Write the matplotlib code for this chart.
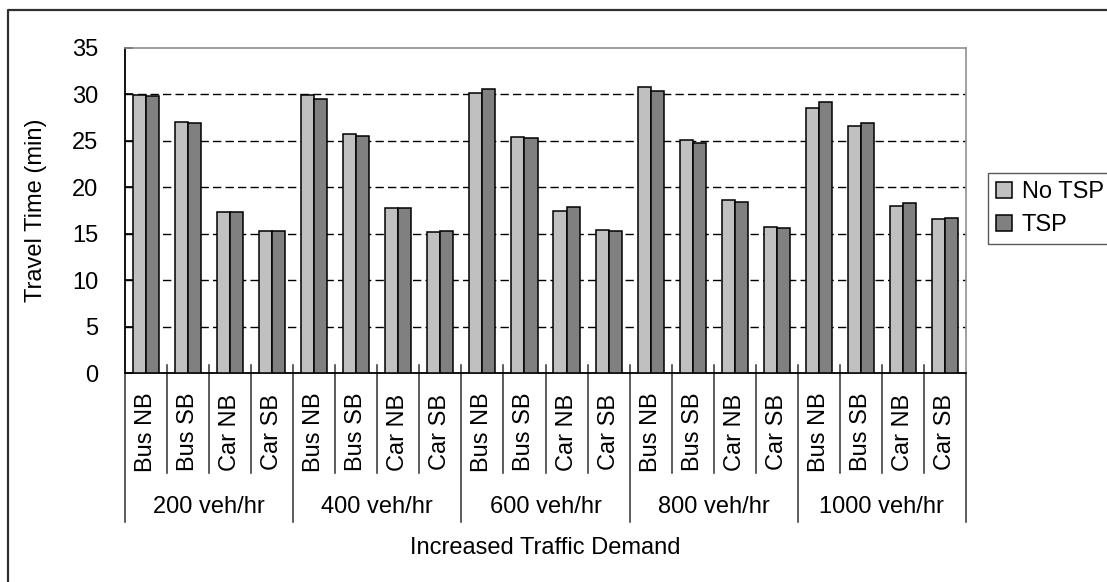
import matplotlib
matplotlib.use("Agg")
import matplotlib.pyplot as plt
import matplotlib.transforms as mtransforms
from matplotlib.lines import Line2D
import numpy as np

plt.rcParams['font.family'] = ['Liberation Sans', 'DejaVu Sans']

groups = ["200 veh/hr", "400 veh/hr", "600 veh/hr", "800 veh/hr", "1000 veh/hr"]
categories = ["Bus NB", "Bus SB", "Car NB", "Car SB"]
series_names = ["No TSP", "TSP"]
no_tsp = [29.9, 27.0, 17.3, 15.3,
          29.9, 25.7, 17.7, 15.15,
          30.15, 25.4, 17.4, 15.4,
          30.75, 25.05, 18.55, 15.7,
          28.45, 26.6, 18.0, 16.55]
tsp = [29.75, 26.85, 17.3, 15.3,
       29.45, 25.45, 17.7, 15.3,
       30.55, 25.25, 17.85, 15.25,
       30.3, 24.75, 18.4, 15.55,
       29.15, 26.85, 18.3, 16.7]
y_ticks = [0, 5, 10, 15, 20, 25, 30, 35]

FS = 17
W, H = 1107, 582
fig = plt.figure(figsize=(W / 100, H / 100), dpi=100)
ax = fig.add_axes([125 / W, 1 - 373 / H, (966 - 125) / W, (373 - 47.5) / H])

n = len(groups) * len(categories)
x = np.arange(n)
bw = 0.31
ax.bar(x - bw / 2, no_tsp, bw, color="#C0C0C0", edgecolor="black", linewidth=1.1, label=series_names[0], zorder=3)
ax.bar(x + bw / 2, tsp, bw, color="#808080", edgecolor="black", linewidth=1.1, label=series_names[1], zorder=3)

ax.set_xlim(-0.5, n - 0.5)
ax.set_ylim(0, 35)
ax.set_yticks(y_ticks)
ax.tick_params(axis='y', direction='in', length=5.5, width=1.2, labelsize=FS, pad=19)
ax.set_xticks([])
for yv in y_ticks[1:-1]:
    ax.axhline(yv, color="black", linewidth=1, linestyle=(0, (6, 3)), zorder=1)

ax.spines['left'].set_color('black')
ax.spines['left'].set_linewidth(1.3)
ax.spines['bottom'].set_color('black')
ax.spines['bottom'].set_linewidth(1.3)
ax.spines['top'].set_color('#909090')
ax.spines['right'].set_color('#909090')
ax.spines['top'].set_linewidth(1.2)
ax.spines['right'].set_linewidth(1.2)

ax.set_ylabel("Travel Time (min)", fontsize=FS)
ax.yaxis.set_label_coords(47 / W, 1 - 210 / H, transform=fig.transFigure)

trans = mtransforms.blended_transform_factory(ax.transData, fig.transFigure)
def fy(py):
    return 1 - py / H

# category labels
for i in range(n):
    ax.text(i, fy(432), categories[i % len(categories)], rotation=90, ha='center', va='center',
            fontsize=FS, transform=trans, clip_on=False)
# group labels
ng = len(categories)
for g, lab in enumerate(groups):
    ax.text(g * ng + (ng - 1) / 2, fy(507), lab, ha='center', va='center', fontsize=FS,
            transform=trans, clip_on=False)
# separators
for i in range(n + 1):
    xb = i - 0.5
    if i % ng == 0:
        top = 373 if i in (0, n) else 365
        ln = Line2D([xb, xb], [fy(top), fy(522)], color='#303030', linewidth=1.1,
                    transform=trans, clip_on=False)
    else:
        ln = Line2D([xb, xb], [fy(365), fy(473)], color='#303030', linewidth=1.1,
                    transform=trans, clip_on=False)
    ax.add_line(ln)

fig.text((125 + 966) / 2 / W, fy(548), "Increased Traffic Demand", ha='center', va='center', fontsize=FS)

leg = ax.legend(loc='upper left', bbox_to_anchor=(988 / W, fy(173)), bbox_transform=fig.transFigure,
                fontsize=FS, frameon=True, fancybox=False, borderpad=0.35, labelspacing=0.45,
                handlelength=0.68, handleheight=0.68, handletextpad=0.4, borderaxespad=0)
leg.get_frame().set_edgecolor('#303030')
leg.get_frame().set_linewidth(1.0)

# outer chart frame (left and top visible)
fig.add_artist(Line2D([8 / W, 8 / W, 1.0], [0.0, fy(10), fy(10)], color='#303030', linewidth=1.6,
                      transform=fig.transFigure))

fig.savefig("out.png", dpi=100)
